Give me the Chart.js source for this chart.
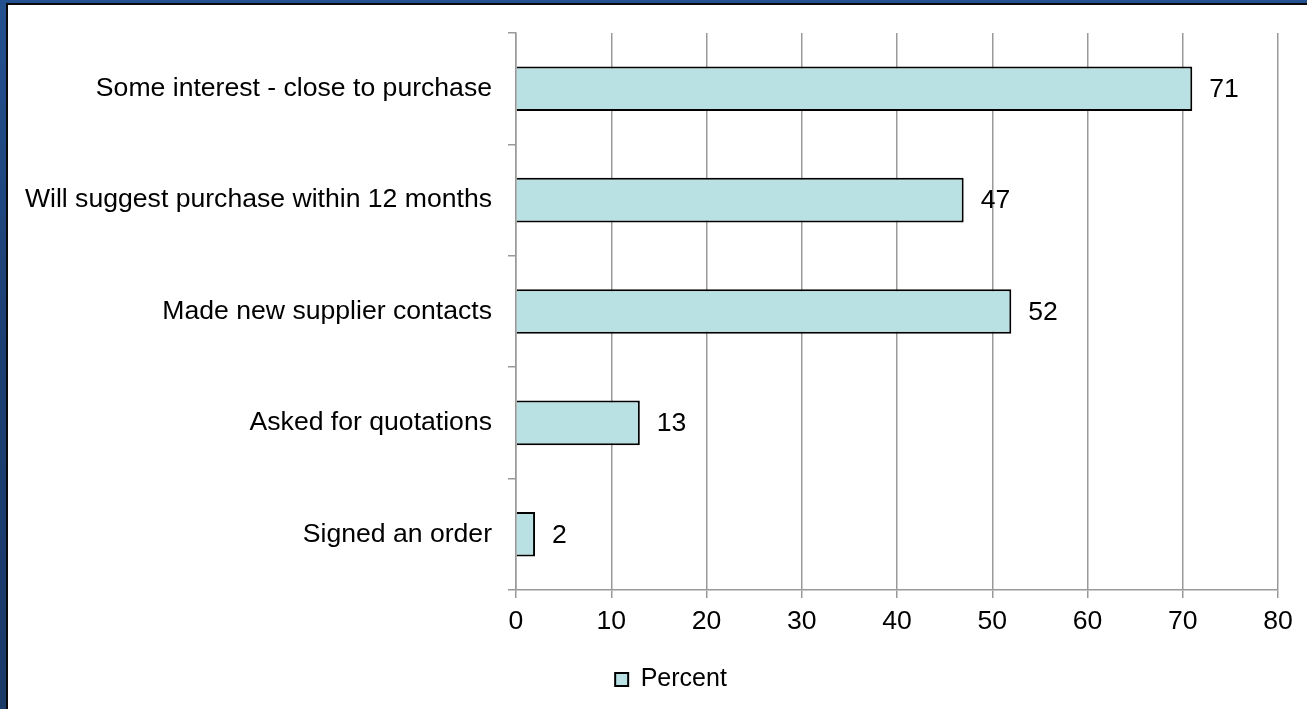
<!DOCTYPE html>
<html>
<head>
<meta charset="utf-8">
<script src="https://cdn.jsdelivr.net/npm/chart.js@4/dist/chart.umd.min.js"></script>
<style>
  html, body { margin: 0; padding: 0; }
  body {
    width: 1307px; height: 709px; overflow: hidden; position: relative;
    background: linear-gradient(180deg, #24518f 0%, #1c3f72 50%, #1a3a68 100%);
  }
  .panel {
    position: absolute; left: 6px; top: 3px; width: 1301px; height: 706px;
    box-sizing: border-box; background: #ffffff;
    border-left: 2px solid #0a0a0a; border-top: 2px solid #0a0a0a;
  }
  #chart { position: absolute; left: 0; top: 0; }
</style>
</head>
<body>
<div class="panel"></div>
<canvas id="chart" width="1307" height="709"></canvas>
<script>
// Survey outcomes, share of respondents (%)
const categories = [
  'Some interest - close to purchase',
  'Will suggest purchase within 12 months',
  'Made new supplier contacts',
  'Asked for quotations',
  'Signed an order'
];
const percentValues = [71, 47, 52, 13, 2];
const seriesName = 'Percent';
const axisMin = 0;
const axisMax = 80;
const axisStep = 10;

const FONT = "'Liberation Sans', Arial, sans-serif";
const BAR_FILL = '#b9e0e3';
const GRID = '#999999';

// Writes each bar's value just past its end
const valueLabels = {
  id: 'valueLabels',
  afterDatasetsDraw(chart) {
    const ctx = chart.ctx;
    ctx.save();
    ctx.font = '26.6px ' + FONT;
    ctx.fillStyle = '#000';
    ctx.textAlign = 'left';
    ctx.textBaseline = 'middle';
    chart.getDatasetMeta(0).data.forEach((bar, i) => {
      const v = chart.data.datasets[0].data[i];
      ctx.fillText(String(v), bar.x + 17, bar.y + 1);
    });
    ctx.restore();
  }
};

// Nudges the legend a little to the right of the canvas centre
const legendOffset = {
  id: 'legendOffset',
  afterLayout(chart) {
    const lg = chart.legend;
    if (lg) { lg.left += 26; lg.right += 26; }
  }
};

new Chart(document.getElementById('chart'), {
  type: 'bar',
  data: {
    labels: categories,
    datasets: [{
      label: seriesName,
      data: percentValues,
      backgroundColor: BAR_FILL,
      borderColor: '#000',
      borderWidth: 2,
      borderSkipped: 'start',
      categoryPercentage: 1,
      barPercentage: 0.4
    }]
  },
  options: {
    indexAxis: 'y',
    responsive: false,
    animation: false,
    layout: { padding: { top: 33, right: 29, left: 12, bottom: 7 } },
    scales: {
      x: {
        min: axisMin,
        max: axisMax,
        afterFit(scale) { scale.height = 67; },
        ticks: {
          stepSize: axisStep,
          color: '#000',
          padding: 8,
          font: { family: FONT, size: 26.6 }
        },
        grid: { color: GRID, lineWidth: 1.5, tickLength: 8, drawTicks: true },
        border: { color: GRID, width: 1.5 }
      },
      y: {
        afterFit(scale) { scale.width = 504; },
        ticks: {
          color: '#000',
          padding: 16,
          font: { family: FONT, size: 26.6 }
        },
        grid: { color: GRID, lineWidth: 1.5, tickLength: 8, drawOnChartArea: false, offset: true },
        border: { color: GRID, width: 1.5 }
      }
    },
    plugins: {
      legend: {
        position: 'bottom',
        labels: {
          color: '#000',
          boxWidth: 13,
          boxHeight: 13,
          padding: 10,
          font: { family: FONT, size: 25 }
        }
      },
      tooltip: { enabled: false }
    }
  },
  plugins: [valueLabels, legendOffset]
});
</script>
</body>
</html>
